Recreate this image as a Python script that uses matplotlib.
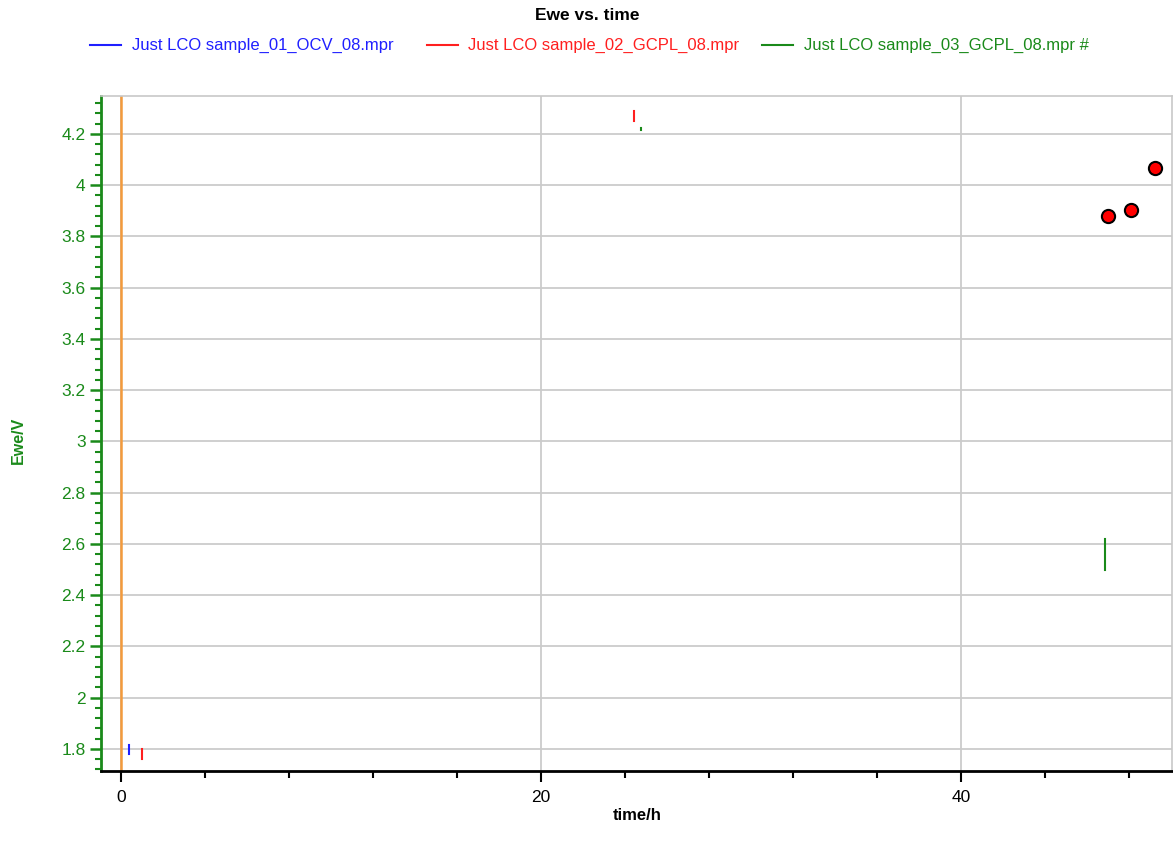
import numpy as np
import matplotlib
matplotlib.use("Agg")
import matplotlib.pyplot as plt
from matplotlib.lines import Line2D
from matplotlib.ticker import MultipleLocator, FuncFormatter

plt.rcParams['font.family'] = ['Liberation Sans', 'DejaVu Sans']

# Series traces (time in h, Ewe in V); NaN separates disjoint segments
labels = ["Just LCO sample_01_OCV_08.mpr",
          "Just LCO sample_02_GCPL_08.mpr",
          "Just LCO sample_03_GCPL_08.mpr #"]
colors = ["#1f1fff", "#ff1f1f", "#1a8a1a"]

ocv_time = [0.38, 0.38]
ocv_ewe = [1.815, 1.780]

gcpl2_time = [1.02, 1.02, np.nan, 24.45, 24.45]
gcpl2_ewe = [1.800, 1.762, np.nan, 4.290, 4.250]

gcpl3_time = [24.75, 24.75, np.nan, 46.86, 46.86]
gcpl3_ewe = [4.224, 4.216, np.nan, 2.620, 2.500]

# Highlighted points
pt_time = [47.0, 48.1, 49.24]
pt_ewe = [3.879, 3.902, 4.066]

cursor_time = 0.0

fig = plt.figure(figsize=(11.73, 8.52), dpi=100)
ax = fig.add_axes([101 / 1173, 1 - 771 / 852, (1172 - 101) / 1173, (771 - 96) / 852])

ax.set_xlim(-0.952, 50.05)
ax.set_ylim(1.714, 4.348)

ax.grid(True, which='major', color='#cbcbcb', linewidth=1.3, zorder=0)
ax.axvline(cursor_time, color='#f39a3c', linewidth=1.8, zorder=2)

series = [(ocv_time, ocv_ewe), (gcpl2_time, gcpl2_ewe), (gcpl3_time, gcpl3_ewe)]
for (t, e), c in zip(series, colors):
    ax.plot(t, e, color=c, linewidth=1.5, zorder=3)

ax.plot(pt_time, pt_ewe, linestyle='none', marker='o', markersize=9.5,
        markerfacecolor='#ff0000', markeredgecolor='black', markeredgewidth=1.5, zorder=4)

# Axes styling
green = '#1a8a1a'
ax.spines['left'].set_color(green)
ax.spines['left'].set_linewidth(2)
ax.spines['bottom'].set_color('black')
ax.spines['bottom'].set_linewidth(2)
for s in ('top', 'right'):
    ax.spines[s].set_color('#c8c8c8')
    ax.spines[s].set_linewidth(1.2)

ax.xaxis.set_major_locator(MultipleLocator(20))
ax.xaxis.set_minor_locator(MultipleLocator(4))
ax.yaxis.set_major_locator(MultipleLocator(0.2))
ax.yaxis.set_minor_locator(MultipleLocator(0.04))
ax.yaxis.set_major_formatter(FuncFormatter(lambda v, p: f"{v:.1f}".rstrip('0').rstrip('.')))

ax.tick_params(axis='x', which='major', length=8, width=1.5, color='black',
               labelsize=12.5, labelcolor='black', pad=6)
ax.tick_params(axis='x', which='minor', length=5, width=1.5, color='black')
ax.tick_params(axis='y', which='major', length=8, width=1.8, color=green,
               labelsize=12.5, labelcolor=green, pad=3)
ax.tick_params(axis='y', which='minor', length=4, width=1.5, color=green)

ax.set_xlabel("time/h", fontsize=12, fontweight='bold')
ax.xaxis.set_label_coords((637 - 101) / (1172 - 101), -(815 - 771) / (771 - 96))
ax.xaxis.label.set_verticalalignment('center')
ax.set_ylabel("Ewe/V", fontsize=11.5, fontweight='bold', color=green)
ax.yaxis.set_label_coords(-(101 - 18) / (1172 - 101), 1 - (440 - 96) / (771 - 96))
ax.yaxis.label.set_verticalalignment('center')

# Title and legend row
fig.text(587 / 1173, 1 - 16 / 852, "Ewe vs. time", ha='center', va='center',
         fontsize=12.5, fontweight='bold')
legend_x = [(90, 132), (427, 468), (762, 804)]
ly = 1 - 45 / 852
for (x0, xt), lab, c in zip(legend_x, labels, colors):
    fig.add_artist(Line2D([x0 / 1173, (x0 + 31) / 1173], [ly, ly],
                          color=c, linewidth=1.5, transform=fig.transFigure))
    fig.text(xt / 1173, ly, lab, ha='left', va='center', fontsize=12.0, color=c)

fig.savefig("out.png", dpi=100)
